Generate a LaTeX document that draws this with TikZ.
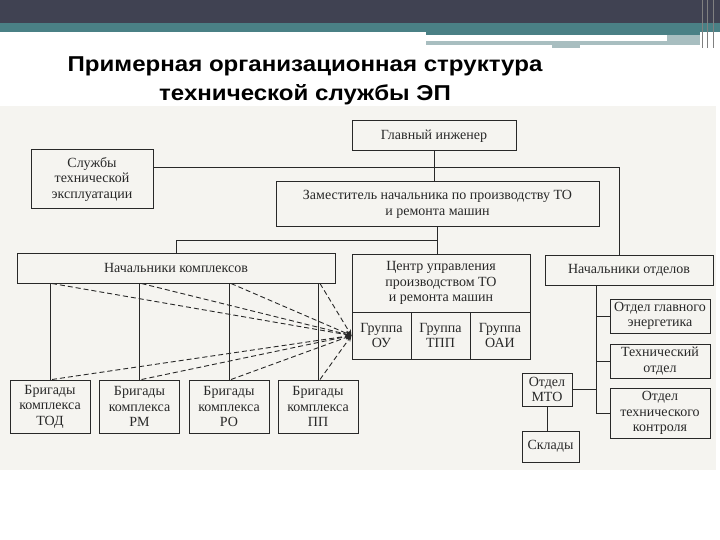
\documentclass[tikz,border=0pt]{standalone}
\usepackage{fontspec}
\setmainfont{Liberation Serif}
\newfontfamily\headfont{Liberation Sans}
\usetikzlibrary{arrows.meta,positioning}
\definecolor{slate}{RGB}{64,66,82}
\definecolor{tealband}{RGB}{74,128,133}
\definecolor{tealpale}{RGB}{168,190,192}
\definecolor{paper}{RGB}{245,244,240}
\definecolor{ink}{RGB}{40,40,40}
\tikzset{
  box/.style={draw=ink,line width=1pt,inner sep=1pt,align=center,text=ink,
    font=\fontsize{14}{15.5}\selectfont},
  headline/.style={anchor=base,xscale=1.12,font=\headfont\bfseries\fontsize{21.5}{26}\selectfont},
  link/.style={draw=ink,line width=0.9pt},
  dashlink/.style={draw=ink,line width=0.9pt,dash pattern=on 5pt off 3pt,
    -{Stealth[length=6pt,width=5pt]}},
}

\begin{document}
\begin{tikzpicture}[x=1pt,y=-1pt]
\useasboundingbox(0,0)rectangle(720,540);
%slide banner
\fill[slate](0,0)rectangle(720,23);
\fill[tealband](0,23)rectangle(720,32);
\fill[tealband](426,32)rectangle(700,35);
\fill[tealpale](426,41)rectangle(667,45);
\fill[tealpale](667,35)rectangle(700,45);
\fill[tealpale](552,45)rectangle(580,48);
\foreach \x in {702,707,713}{
\draw[gray,line width=0.8](\x,0)--(\x,48);
}
%title
\node[headline](title1)at(305,72){Примерная организационная структура};
\node[headline](title2)at(305,101){технической службы ЭП};
%scanned sheet
\fill[paper](0,106)rectangle(716,470);
%top levels
\node[box,minimum width=164,minimum height=30](glav)at(434,136){Главный инженер};
\node[box,minimum width=122,minimum height=59](sluzh)at(92,179.5)
{Службы\\технической\\эксплуатации};
\node[box,minimum width=323,minimum height=45](zam)at(437.5,204.5)
{Заместитель начальника по производству ТО\\и ремонта машин};
\node[box,minimum width=318,minimum height=30](nachk)at(176,268){Начальники комплексов};
\node[box,minimum width=178,minimum height=58](centr)at(441,283)
{Центр управления\\производством ТО\\и ремонта машин};
\node[box,minimum width=59,minimum height=47](grou)at(381.5,335.5){Группа\\ОУ};
\node[box,minimum width=59,minimum height=47](grtpp)at(440.5,335.5){Группа\\ТПП};
\node[box,minimum width=60,minimum height=47](groai)at(500,335.5){Группа\\ОАИ};
\node[box,minimum width=168,minimum height=30](nacho)at(629,270){Начальники отделов};
%departments
\node[box,minimum width=100,minimum height=34](energ)at(660,316){Отдел главного\\энергетика};
\node[box,minimum width=100,minimum height=34](tech)at(660,361){Технический\\отдел};
\node[box,minimum width=100,minimum height=50](otk)at(660,413)
{Отдел\\технического\\контроля};
\node[box,minimum width=50,minimum height=33](mto)at(547,389.5){Отдел\\МТО};
\node[box,minimum width=57,minimum height=31](sklad)at(550.5,446.5){Склады};
%brigades
\foreach \n/\cx/\t in {tod/50/ТОД,rm/139.5/РМ,ro/229/РО,pp/318/ПП}{
\node[box,minimum width=80,minimum height=53](\n)at(\cx,406.5){Бригады\\комплекса\\\t};
}
%connectors
\coordinate(top)at(619,167);
\coordinate(split)at(437.5,240);
\coordinate(spine)at(596,285);
\draw[link](glav.south)--(glav.south|-zam.north);
\draw[link](sluzh.east|-top)--(top)--(top|-nacho.north);
\draw[link](zam.south)--(zam.south|-centr.north);
\draw[link](split)-|(nachk.north);
\draw[link](spine)--(spine|-otk.west);
\foreach \n in {energ,tech,otk}{
\draw[link](\n.west-|spine)--(\n.west);
}
\draw[link](mto.east)--(mto.east-|spine);
\draw[link](mto.south)--(mto.south|-sklad.north);
\foreach \n in {tod,rm,ro,pp}{
\draw[link](\n.north)--(\n.north|-nachk.south);
\draw[dashlink]([xshift=2]\n.north|-nachk.south)--(grou.west);
\draw[dashlink]([xshift=2]\n.north)--(grou.west);
}
\end{tikzpicture}
\end{document}
